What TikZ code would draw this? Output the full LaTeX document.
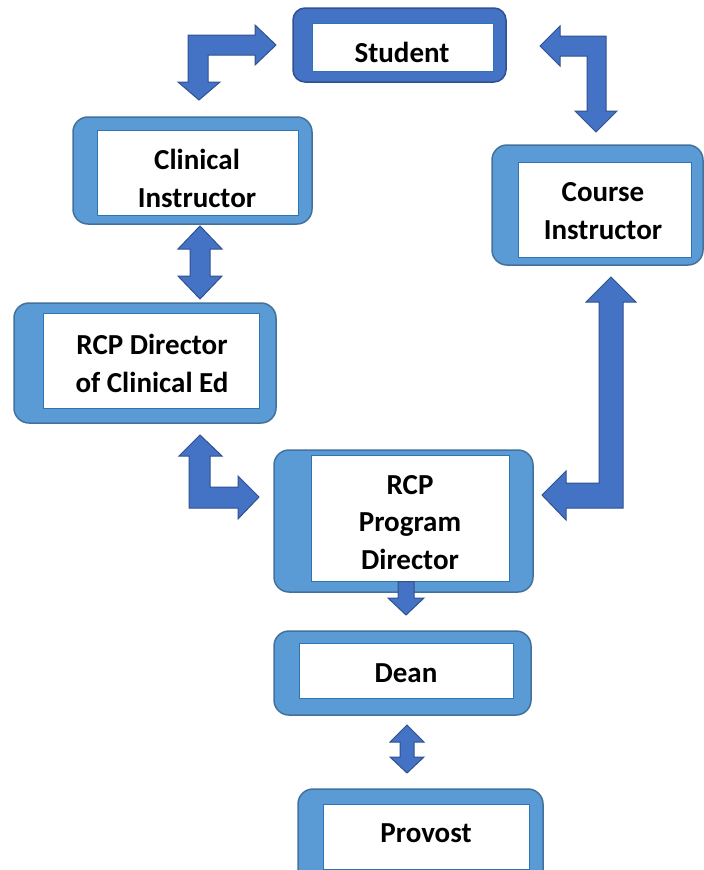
\documentclass[tikz,border=0pt]{standalone}
\usepackage{fontspec}
\setmainfont{Carlito}
\usepackage{tikz}

\definecolor{framefill}{HTML}{5B9BD5}
\definecolor{frameedge}{HTML}{41719C}
\definecolor{arrowfill}{HTML}{4472C4}
\definecolor{arrowedge}{HTML}{2F528F}
\definecolor{boxedge}{HTML}{2E75B6}

\begin{document}
\begin{tikzpicture}[x=1pt,y=-1pt,
    frame/.style={draw=frameedge,fill=framefill,line width=1.5pt,rounded corners=15pt},
    topframe/.style={frame,draw=arrowedge,fill=arrowfill,rounded corners=12pt},
    rolebox/.style={draw=boxedge,fill=white,line width=0.8pt},
    role/.style={inner sep=0pt,align=center,font=\fontsize{29}{37.5}\selectfont\bfseries},
    blockarrow/.style={draw=arrowedge,fill=arrowfill,line width=1pt,line join=miter}]
    \useasboundingbox (0,0) rectangle (704,870);
    \clip (0,0) rectangle (704,870);

    % boxes
    \draw[topframe] (293,8) rectangle (506,82);
    \draw[rolebox] (312,23) rectangle (493,71);
    \node[role] (student) at (402,52) {Student};
    \draw[frame] (73,117) rectangle (312,224);
    \draw[rolebox] (97,130) rectangle (298,215);
    \node[role] (clinical) at (197,178.5) {Clinical\\Instructor};
    \draw[frame] (14,303) rectangle (276,423);
    \draw[rolebox] (43,313) rectangle (259,408);
    \node[role] (clined) at (152,363.5) {RCP Director\\of Clinical Ed};
    \draw[frame] (492,145) rectangle (703,265);
    \draw[rolebox] (518,162) rectangle (691,257);
    \node[role] (course) at (603,211) {Course\\Instructor};
    \draw[frame] (274,450) rectangle (533,592);
    \draw[rolebox] (311,455) rectangle (509,581);
    \node[role] (progdir) at (410,522.5) {RCP\\Program\\Director};
    \draw[frame] (274,631) rectangle (531,715);
    \draw[rolebox] (299,643) rectangle (513,698);
    \node[role] (dean) at (406,673) {Dean};
    \draw[frame] (298,789) rectangle (543,890);
    \draw[rolebox] (323,804) rectangle (529,869);
    \node[role] (provost) at (426,833) {Provost};

    % block arrows
    \draw[blockarrow] (276,45) -- (255,25) -- (255,35) -- (188,35) -- (188,82) -- (178,82)
        -- (199,100) -- (220,82) -- (208,82) -- (208,55) -- (255,55) -- (255,65) -- cycle;
    \draw[blockarrow] (540,46) -- (560,26) -- (560,36) -- (606,36) -- (606,111) -- (617,111)
        -- (596,132) -- (575,111) -- (587,111) -- (587,56) -- (560,56) -- (560,66) -- cycle;
    \draw[blockarrow] (200,226) -- (222,249) -- (210,249) -- (210,276) -- (222,276)
        -- (200,299) -- (178,276) -- (190,276) -- (190,249) -- (178,249) -- cycle;
    \draw[blockarrow] (200,435) -- (222,456) -- (210,456) -- (210,487) -- (238,487) -- (238,476)
        -- (259,497) -- (238,519) -- (238,508) -- (189,508) -- (189,456) -- (179,456) -- cycle;
    \draw[blockarrow] (611,277) -- (636,302) -- (623,302) -- (623,508) -- (566,508) -- (566,520)
        -- (542,495) -- (566,471) -- (566,483) -- (599,483) -- (599,302) -- (586,302) -- cycle;
    \draw[blockarrow] (398,581.5) -- (414,581.5) -- (414,598) -- (424,598) -- (406,615)
        -- (388,598) -- (398,598) -- cycle;
    \draw[blockarrow] (407,725) -- (424,742) -- (414,742) -- (414,757) -- (424,757)
        -- (407,773) -- (390,757) -- (400,757) -- (400,742) -- (390,742) -- cycle;
\end{tikzpicture}
\end{document}
